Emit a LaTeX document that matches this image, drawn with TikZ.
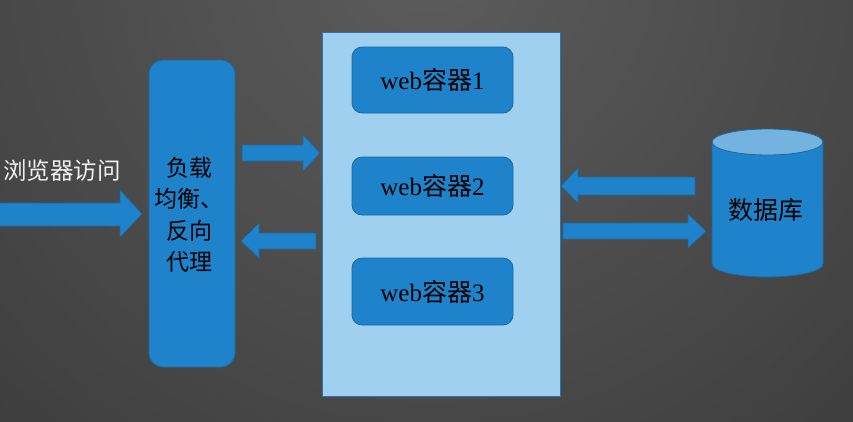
\documentclass[tikz,border=0pt]{standalone}
\usepackage{fontspec}
\setmainfont{Liberation Serif}
\newfontfamily\cjk{Noto Sans CJK SC}
\newcommand\zh[1]{{\cjk #1}}
\definecolor{bluefill}{RGB}{30,131,202}
\definecolor{blueline}{RGB}{28,104,160}
\definecolor{paleblue}{RGB}{159,208,240}
\definecolor{paleline}{RGB}{46,116,181}
\definecolor{cyltop}{RGB}{116,179,224}
\definecolor{bgin}{RGB}{92,92,92}
\definecolor{bgout}{RGB}{34,34,34}
\begin{document}
\begin{tikzpicture}[x=1pt,y=-1pt,
  bluebox/.style={fill=bluefill,draw=blueline,line width=0.8pt},
  barrow/.style={fill=bluefill,draw=blueline,line width=0.6pt},
  webbox/.style={bluebox,rounded corners=10pt,minimum width=161pt,inner sep=0pt,
    font=\fontsize{25}{29}\selectfont},
]
% background
\path[use as bounding box] (0,0) rectangle (853,421);
\begin{scope}
\clip (0,0) rectangle (853,421);
\shade[inner color=bgin,outer color=bgout] (430,-40) circle (1250pt);
\end{scope}

% load balancer
\node[bluebox,rounded corners=14pt,minimum width=86pt,minimum height=307pt,inner sep=0pt]
  (lb) at (192,213.5) {};
\node[align=center,font=\cjk\fontsize{23}{31.5}\selectfont,text=black] (lbtext) at (189,215)
  {负载\\均衡、\\反向\\代理};

% container
\node[fill=paleblue,draw=paleline,line width=0.8pt,minimum width=238pt,minimum height=364pt,inner sep=0pt]
  (cont) at (441,214) {};
\node[webbox,minimum height=66pt] (w1) at (432.5,80) {web\zh{容器}1};
\node[webbox,minimum height=58pt] (w2) at (432.5,186) {web\zh{容器}2};
\node[webbox,minimum height=67pt] (w3) at (432.5,291.5) {web\zh{容器}3};

% database cylinder
\coordinate (dbtop) at (767.5,142);
\coordinate (dbbot) at (767.5,264);
\draw[bluebox] (712,142) -- (712,264) arc[start angle=180,end angle=360,x radius=55.5pt,y radius=13pt]
  -- (823,142) -- cycle;
\draw[fill=cyltop,draw=blueline,line width=0.8pt] (dbtop) ellipse[x radius=55.5pt,y radius=13pt];
\node[font=\cjk\fontsize{25}{29}\selectfont] (db) at (766,210) {数据库};

% browser label
\node[font=\cjk\fontsize{23.5}{27}\selectfont,text={rgb,255:red,240;green,240;blue,240},anchor=west,inner sep=0pt]
  (browser) at (3,171) {浏览器访问};

% block arrows
\draw[barrow] (-2,203)--(120,203)--(120,190)--(142,214)--(120,237)--(120,226)--(-2,226)--cycle;
\draw[barrow] (242,145)--(303,145)--(303,135)--(320,153)--(303,171)--(303,161)--(242,161)--cycle;
\draw[barrow] (316,233)--(259,233)--(259,223)--(241,241)--(259,258)--(259,249)--(316,249)--cycle;
\draw[barrow] (695,177)--(578,177)--(578,168)--(561,186)--(578,203)--(578,195)--(695,195)--cycle;
\draw[barrow] (563,223)--(688,223)--(688,214)--(706,231)--(688,248)--(688,239)--(563,239)--cycle;
\end{tikzpicture}
\end{document}
